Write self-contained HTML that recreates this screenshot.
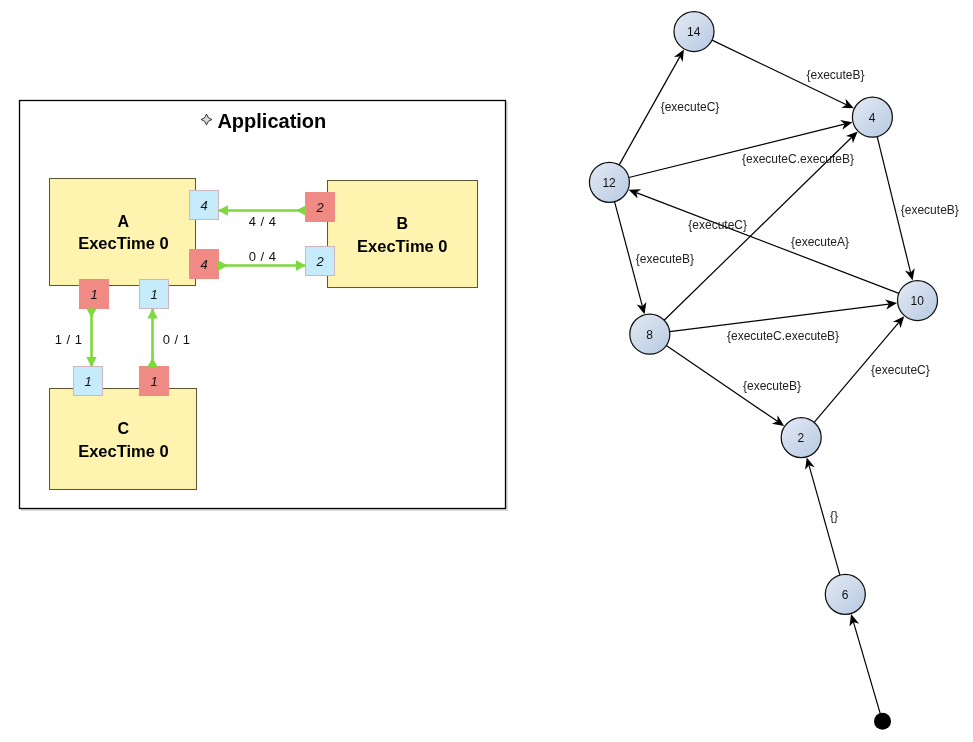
<!DOCTYPE html><html><head><meta charset="utf-8"><style>
html,body{margin:0;padding:0;background:#fff;width:973px;height:742px;overflow:hidden}
svg{display:block;will-change:transform}
text{font-family:"Liberation Sans", sans-serif}
</style></head><body>
<svg width="973" height="742" viewBox="0 0 973 742">
<defs>
<linearGradient id="ng" x1="0" y1="0" x2="1" y2="1">
<stop offset="0" stop-color="#e4eaf4"/><stop offset="1" stop-color="#b7c9e2"/>
</linearGradient>
</defs>

<rect x="21" y="102" width="487" height="409" fill="#dcdcdc"/>
<rect x="19.5" y="100.5" width="486" height="408" fill="#fff" stroke="#000" stroke-width="1.3"/>
<path d="M206.5,114.1 L208.3,117.7 L211.9,119.5 L208.3,121.3 L206.5,124.9 L204.7,121.3 L201.1,119.5 L204.7,117.7Z" fill="#d3e2c9" stroke="#1e1e1e" stroke-width="0.9" stroke-linejoin="miter" stroke-miterlimit="10"/>
<text x="217.4" y="128" font-size="20" font-weight="bold" fill="#000">Application</text>
<rect x="49.5" y="178.5" width="146" height="107" fill="#fff3b0" stroke="#5f5838" stroke-width="1.05"/>
<text x="123.4" y="226.7" font-size="16" font-weight="bold" text-anchor="middle">A</text>
<text x="123.4" y="249.3" font-size="16.5" font-weight="bold" text-anchor="middle">ExecTime 0</text>
<rect x="327.5" y="180.5" width="150" height="107" fill="#fff3b0" stroke="#5f5838" stroke-width="1.05"/>
<text x="402.3" y="228.7" font-size="16" font-weight="bold" text-anchor="middle">B</text>
<text x="402.3" y="252" font-size="16.5" font-weight="bold" text-anchor="middle">ExecTime 0</text>
<rect x="49.5" y="388.5" width="147" height="101" fill="#fff3b0" stroke="#5f5838" stroke-width="1.05"/>
<text x="123.4" y="434.2" font-size="16" font-weight="bold" text-anchor="middle">C</text>
<text x="123.4" y="457.2" font-size="16.5" font-weight="bold" text-anchor="middle">ExecTime 0</text>
<rect x="189.5" y="190.5" width="29" height="29" fill="#c6ebfa" stroke="#cdb6c2" stroke-width="1"/>
<text x="204.0" y="209.5" font-size="13" font-style="italic" text-anchor="middle" fill="#111">4</text>
<rect x="189" y="249" width="30" height="30" fill="#f08a85"/>
<text x="204.0" y="268.5" font-size="13" font-style="italic" text-anchor="middle" fill="#111">4</text>
<rect x="305" y="192" width="30" height="30" fill="#f08a85"/>
<text x="320.0" y="211.5" font-size="13" font-style="italic" text-anchor="middle" fill="#111">2</text>
<rect x="305.5" y="246.5" width="29" height="29" fill="#c6ebfa" stroke="#cdb6c2" stroke-width="1"/>
<text x="320.0" y="265.5" font-size="13" font-style="italic" text-anchor="middle" fill="#111">2</text>
<rect x="79" y="279" width="30" height="30" fill="#f08a85"/>
<text x="94.0" y="298.5" font-size="13" font-style="italic" text-anchor="middle" fill="#111">1</text>
<rect x="139.5" y="279.5" width="29" height="29" fill="#c6ebfa" stroke="#cdb6c2" stroke-width="1"/>
<text x="154.0" y="298.5" font-size="13" font-style="italic" text-anchor="middle" fill="#111">1</text>
<rect x="73.5" y="366.5" width="29" height="29" fill="#c6ebfa" stroke="#cdb6c2" stroke-width="1"/>
<text x="88.0" y="385.5" font-size="13" font-style="italic" text-anchor="middle" fill="#111">1</text>
<rect x="139" y="366" width="30" height="30" fill="#f08a85"/>
<text x="154.0" y="385.5" font-size="13" font-style="italic" text-anchor="middle" fill="#111">1</text>
<line x1="219" y1="210.5" x2="305" y2="210.5" stroke="#7ed93c" stroke-width="2.6"/>
<path d="M218,210.5 L228,205.3 L228,215.7Z" fill="#7ed93c"/>
<path d="M296,210.5 L306,205.3 L306,215.7Z" fill="#7ed93c"/>
<line x1="219" y1="265.5" x2="305" y2="265.5" stroke="#7ed93c" stroke-width="2.6"/>
<path d="M228,265.5 L218,260.3 L218,270.7Z" fill="#7ed93c"/>
<path d="M306,265.5 L296,260.3 L296,270.7Z" fill="#7ed93c"/>
<line x1="91.5" y1="309" x2="91.5" y2="366" stroke="#7ed93c" stroke-width="2.6"/>
<path d="M91.5,317.5 L86.3,308.5 L96.7,308.5Z" fill="#7ed93c"/>
<path d="M91.5,367 L86.3,357 L96.7,357Z" fill="#7ed93c"/>
<line x1="152.5" y1="309" x2="152.5" y2="366" stroke="#7ed93c" stroke-width="2.6"/>
<path d="M152.5,308.5 L147.3,318.5 L157.7,318.5Z" fill="#7ed93c"/>
<path d="M152.5,357.5 L147.3,367 L157.7,367Z" fill="#7ed93c"/>
<text x="262.6" y="226.2" font-size="13" letter-spacing="0.45" text-anchor="middle" fill="#111">4 / 4</text>
<text x="262.6" y="261.2" font-size="13" letter-spacing="0.45" text-anchor="middle" fill="#111">0 / 4</text>
<text x="68.6" y="343.8" font-size="13" letter-spacing="0.45" text-anchor="middle" fill="#111">1 / 1</text>
<text x="176.6" y="343.8" font-size="13" letter-spacing="0.45" text-anchor="middle" fill="#111">0 / 1</text>
<line x1="619.19" y1="164.86" x2="679.91" y2="56.62" stroke="#000" stroke-width="1.2"/>
<path d="M683.92,49.47 L682.66,61.94 L679.91,56.62 L673.93,57.05Z" fill="#000"/>
<line x1="712.03" y1="40.16" x2="846.44" y2="104.73" stroke="#000" stroke-width="1.2"/>
<path d="M853.83,108.28 L841.30,107.81 L846.44,104.73 L845.63,98.79Z" fill="#000"/>
<line x1="628.81" y1="177.49" x2="844.44" y2="124.12" stroke="#000" stroke-width="1.2"/>
<path d="M852.40,122.15 L842.44,129.77 L844.44,124.12 L840.04,120.06Z" fill="#000"/>
<line x1="664.12" y1="320.24" x2="851.78" y2="137.30" stroke="#000" stroke-width="1.2"/>
<path d="M857.65,131.58 L852.90,143.19 L851.78,137.30 L845.92,136.03Z" fill="#000"/>
<line x1="877.18" y1="136.62" x2="910.62" y2="272.53" stroke="#000" stroke-width="1.2"/>
<path d="M912.58,280.50 L904.98,270.52 L910.62,272.53 L914.69,268.14Z" fill="#000"/>
<line x1="898.83" y1="293.34" x2="636.29" y2="192.62" stroke="#000" stroke-width="1.2"/>
<path d="M628.63,189.68 L641.16,189.13 L636.29,192.62 L637.58,198.47Z" fill="#000"/>
<line x1="614.54" y1="201.63" x2="642.40" y2="306.37" stroke="#000" stroke-width="1.2"/>
<path d="M644.51,314.29 L636.72,304.46 L642.40,306.37 L646.38,301.89Z" fill="#000"/>
<line x1="669.64" y1="331.70" x2="888.93" y2="304.10" stroke="#000" stroke-width="1.2"/>
<path d="M897.06,303.07 L886.28,309.47 L888.93,304.10 L885.03,299.55Z" fill="#000"/>
<line x1="666.32" y1="345.48" x2="777.42" y2="421.36" stroke="#000" stroke-width="1.2"/>
<path d="M784.19,425.98 L771.87,423.63 L777.42,421.36 L777.51,415.37Z" fill="#000"/>
<line x1="814.14" y1="422.35" x2="898.87" y2="322.46" stroke="#000" stroke-width="1.2"/>
<path d="M904.17,316.21 L900.55,328.21 L898.87,322.46 L892.92,321.74Z" fill="#000"/>
<line x1="839.88" y1="575.05" x2="809.00" y2="465.32" stroke="#000" stroke-width="1.2"/>
<path d="M806.78,457.43 L814.71,467.15 L809.00,465.32 L805.08,469.85Z" fill="#000"/>
<line x1="880.11" y1="713.14" x2="853.40" y2="621.94" stroke="#000" stroke-width="1.2"/>
<path d="M851.09,614.07 L859.12,623.70 L853.40,621.94 L849.53,626.51Z" fill="#000"/>
<circle cx="694" cy="31.5" r="20" fill="url(#ng)" stroke="#111" stroke-width="1.25"/>
<text x="693.7" y="35.8" font-size="12" text-anchor="middle" fill="#111">14</text>
<circle cx="872.4" cy="117.2" r="20" fill="url(#ng)" stroke="#111" stroke-width="1.25"/>
<text x="872.1" y="121.5" font-size="12" text-anchor="middle" fill="#111">4</text>
<circle cx="609.4" cy="182.3" r="20" fill="url(#ng)" stroke="#111" stroke-width="1.25"/>
<text x="609.1" y="186.60000000000002" font-size="12" text-anchor="middle" fill="#111">12</text>
<circle cx="649.8" cy="334.2" r="20" fill="url(#ng)" stroke="#111" stroke-width="1.25"/>
<text x="649.5" y="338.5" font-size="12" text-anchor="middle" fill="#111">8</text>
<circle cx="917.5" cy="300.5" r="20" fill="url(#ng)" stroke="#111" stroke-width="1.25"/>
<text x="917.2" y="304.8" font-size="12" text-anchor="middle" fill="#111">10</text>
<circle cx="801.2" cy="437.6" r="20" fill="url(#ng)" stroke="#111" stroke-width="1.25"/>
<text x="800.9000000000001" y="441.90000000000003" font-size="12" text-anchor="middle" fill="#111">2</text>
<circle cx="845.3" cy="594.3" r="20" fill="url(#ng)" stroke="#111" stroke-width="1.25"/>
<text x="845.0" y="598.5999999999999" font-size="12" text-anchor="middle" fill="#111">6</text>
<circle cx="882.5" cy="721.3" r="8.5" fill="#000"/>
<text x="690.00" y="110.80" font-size="12" text-anchor="middle" fill="#222">{executeC}</text>
<text x="835.50" y="79.00" font-size="12" text-anchor="middle" fill="#222">{executeB}</text>
<text x="798.00" y="163.20" font-size="12" text-anchor="middle" fill="#222">{executeC.executeB}</text>
<text x="717.70" y="229.40" font-size="12" text-anchor="middle" fill="#222">{executeC}</text>
<text x="820.00" y="246.40" font-size="12" text-anchor="middle" fill="#222">{executeA}</text>
<text x="929.80" y="213.60" font-size="12" text-anchor="middle" fill="#222">{executeB}</text>
<text x="664.90" y="263.10" font-size="12" text-anchor="middle" fill="#222">{executeB}</text>
<text x="783.05" y="340.40" font-size="12" text-anchor="middle" fill="#222">{executeC.executeB}</text>
<text x="772.00" y="389.90" font-size="12" text-anchor="middle" fill="#222">{executeB}</text>
<text x="900.40" y="373.50" font-size="12" text-anchor="middle" fill="#222">{executeC}</text>
<text x="834.05" y="520.10" font-size="12" text-anchor="middle" fill="#222">{}</text>
</svg></body></html>
